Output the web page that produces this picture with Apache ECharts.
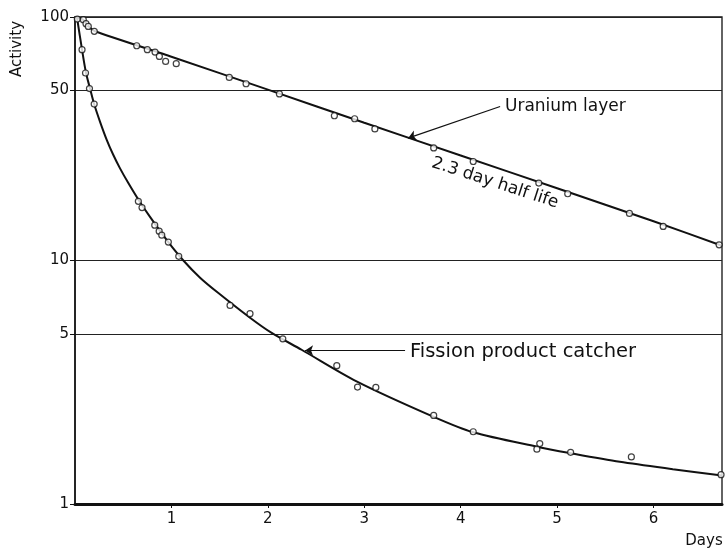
<!DOCTYPE html>
<html>
<head>
<meta charset="utf-8">
<script src="https://cdn.jsdelivr.net/npm/echarts@6/dist/echarts.min.js"></script>
<style>
html,body{margin:0;padding:0;background:#fff;}
#chart{width:727px;height:548px;}
</style>
</head>
<body>
<div id="chart"></div>
<script>
// ---- data ----
const xTickLabels = [1, 2, 3, 4, 5, 6];
const yTickLabels = [1, 5, 10, 50, 100];

const uraniumDays     = [0.024, 0.086, 0.114, 0.138, 0.20, 0.64, 0.75, 0.83, 0.875, 0.94, 1.05, 1.60, 1.774, 2.12, 2.69, 2.90, 3.11, 3.72, 4.13, 4.81, 5.11, 5.75, 6.10, 6.68];
const uraniumActivity = [98.1, 97.5, 93.9, 91.5, 87.3, 76.2, 73.4, 71.8, 68.9, 65.7, 64.3, 56.5, 53.2, 48.3, 39.3, 38.2, 34.7, 29.0, 25.5, 20.8, 18.8, 15.6, 13.8, 11.6];

const fissionDays     = [0.073, 0.109, 0.150, 0.199, 0.657, 0.695, 0.827, 0.873, 0.90, 0.968, 1.076, 1.608, 1.815, 2.155, 2.715, 2.93, 3.12, 3.72, 4.13, 4.79, 4.82, 5.14, 5.77, 6.70];
const fissionActivity = [73.4, 58.9, 50.8, 43.9, 17.5, 16.5, 13.96, 13.2, 12.7, 11.9, 10.4, 6.54, 6.05, 4.77, 3.70, 3.02, 3.01, 2.31, 1.98, 1.68, 1.77, 1.63, 1.56, 1.32];

const uraniumCurveDays     = [0.02, 0.086, 0.138, 0.207, 1, 2, 3, 4, 5, 6, 6.71];
const uraniumCurveActivity = [100, 97.3, 91.8, 87.4, 68.7, 50.3, 36.8, 27.0, 19.8, 14.5, 11.5];

const fissionCurveDays     = [0.02, 0.073, 0.114, 0.156, 0.20, 0.259, 0.329, 0.394, 0.467, 0.550, 0.657, 0.778, 0.968, 1.124, 1.297, 1.487, 1.815, 2.04, 2.35, 2.92, 3.72, 4.13, 4.79, 5.13, 5.65, 6.2, 6.71];
const fissionCurveActivity = [100, 73.4, 59, 50.8, 43.7, 37.2, 31.3, 27.3, 23.9, 20.9, 17.8, 15.1, 11.9, 10.0, 8.50, 7.35, 5.82, 5.04, 4.30, 3.19, 2.28, 1.97, 1.72, 1.62, 1.49, 1.39, 1.31];

// annotation arrows (data coordinates)
const uraniumArrow = [[4.409, 42.9], [3.454, 31.8]];
const fissionArrow = [[3.423, 4.27], [2.386, 4.27]];

const zip = (a, b) => a.map((v, i) => [v, b[i]]);
const FONT = 'DejaVu Sans';

const chart = echarts.init(document.getElementById('chart'), null, {renderer: 'canvas'});

const pointStyle = {
  type: 'scatter',
  symbol: 'circle',
  symbolSize: 6,
  itemStyle: {color: '#fff', borderColor: '#111', borderWidth: 1.2},
  z: 5,
  silent: true
};
const lineStyle = {
  type: 'line',
  showSymbol: false,
  symbol: 'none',
  lineStyle: {color: '#111', width: 2},
  z: 3,
  silent: true
};

chart.setOption({
  animation: false,
  backgroundColor: '#fff',
  grid: {
    left: 75, right: 5, top: 17, bottom: 44,
    show: true, borderColor: '#111', borderWidth: 1.3, backgroundColor: 'transparent'
  },
  xAxis: {
    type: 'value',
    min: 0, max: 6.71,
    interval: 1,
    axisLine: {show: true, onZero: false, lineStyle: {color: '#111', width: 3}},
    axisTick: {show: true, length: 4, inside: false, customValues: xTickLabels, lineStyle: {color: '#111', width: 1}},
    axisLabel: {customValues: xTickLabels, color: '#111', fontFamily: FONT, fontSize: 15, margin: 8},
    splitLine: {show: false}
  },
  yAxis: {
    type: 'log',
    logBase: 10,
    min: 1, max: 100,
    axisLine: {show: true, lineStyle: {color: '#111', width: 1.5}},
    axisTick: {show: true, length: 5, customValues: yTickLabels, lineStyle: {color: '#111', width: 1}},
    axisLabel: {customValues: yTickLabels, color: '#111', fontFamily: FONT, fontSize: 15, margin: 6},
    splitLine: {show: true, lineStyle: {color: '#222', width: 1.1}},
    minorSplitLine: {show: false}
  },
  series: [
    Object.assign({}, lineStyle, {
      name: 'Uranium layer curve',
      data: zip(uraniumCurveDays, uraniumCurveActivity),
      smooth: 0.2,
      markLine: {
        silent: true,
        symbol: ['none', 'arrow'],
        symbolSize: 8,
        label: {show: false},
        lineStyle: {color: '#111', width: 1.2, type: 'solid'},
        data: [
          [{coord: uraniumArrow[0]}, {coord: uraniumArrow[1]}],
          [{coord: fissionArrow[0]}, {coord: fissionArrow[1]}]
        ]
      }
    }),
    Object.assign({}, lineStyle, {
      name: 'Fission product catcher curve',
      data: zip(fissionCurveDays, fissionCurveActivity),
      smooth: 0.3
    }),
    Object.assign({}, pointStyle, {name: 'Uranium layer', data: zip(uraniumDays, uraniumActivity)}),
    Object.assign({}, pointStyle, {name: 'Fission product catcher', data: zip(fissionDays, fissionActivity)})
  ],
  graphic: [
    {type: 'text', x: 17, y: 49, rotation: Math.PI / 2,
     style: {text: 'Activity', fontFamily: FONT, fontSize: 15, fill: '#111', align: 'center', verticalAlign: 'middle'}},
    {type: 'text', x: 704, y: 541,
     style: {text: 'Days', fontFamily: FONT, fontSize: 15, fill: '#111', align: 'center', verticalAlign: 'middle'}},
    {type: 'text', x: 505, y: 107,
     style: {text: 'Uranium layer', fontFamily: FONT, fontSize: 17, fill: '#111', align: 'left', verticalAlign: 'middle'}},
    {type: 'text', x: 410, y: 352,
     style: {text: 'Fission product catcher', fontFamily: FONT, fontSize: 19.5, fill: '#111', align: 'left', verticalAlign: 'middle'}},
    {type: 'text', x: 495, y: 183, rotation: -18 * Math.PI / 180,
     style: {text: '2.3 day half life', fontFamily: FONT, fontSize: 17, fill: '#111', align: 'center', verticalAlign: 'middle'}}
  ]
});
</script>
</body>
</html>
